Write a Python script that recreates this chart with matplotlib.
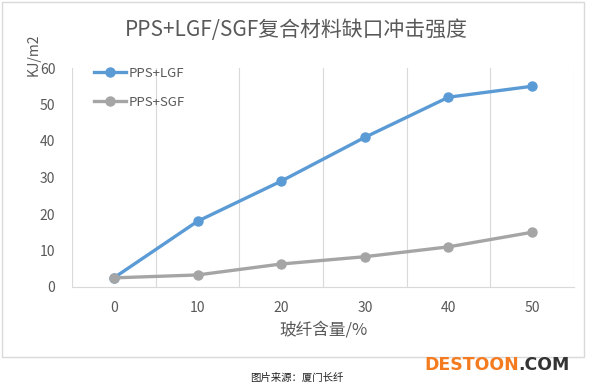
import matplotlib.pyplot as plt
from matplotlib.patches import Rectangle

plt.rcParams['font.family'] = ['Noto Sans CJK SC', 'DejaVu Sans']

# Data
content = [0, 10, 20, 30, 40, 50]
lgf = [2.5, 18, 29, 41, 52, 55]
sgf = [2.5, 3.3, 6.3, 8.3, 11, 15]

blue = '#5B9BD5'
grey = '#A5A5A5'
txt = '#595959'

fig = plt.figure(figsize=(5.94, 3.88), dpi=100)

# chart border
fig.patches.append(Rectangle((0.003, 1 - 357 / 388), 582 / 594, 355 / 388,
                             transform=fig.transFigure, fill=False,
                             edgecolor='#D9D9D9', lw=1))

ax = fig.add_axes([72 / 594, 1 - 287 / 388, 502 / 594, 219 / 388])
x = list(range(len(content)))
ax.plot(x, lgf, '-o', color=blue, lw=2.4, ms=6.5, label='PPS+LGF')
ax.plot(x, sgf, '-o', color=grey, lw=2.4, ms=6.5, label='PPS+SGF')

ax.set_xlim(-0.5, len(content) - 0.5)
ax.set_ylim(0, 60)
ax.set_yticks(range(0, 61, 10))
ax.set_xticks(x)
ax.set_xticklabels([str(c) for c in content])
# vertical gridlines between categories
for b in [i + 0.5 for i in x[:-1]]:
    ax.axvline(b, color='#D9D9D9', lw=0.8, zorder=0)
ax.axvline(-0.5, color='#D9D9D9', lw=0.8, zorder=0)
ax.axvline(len(content) - 0.5, color='#D9D9D9', lw=0.8, zorder=0)

for s in ['top', 'right', 'left']:
    ax.spines[s].set_visible(False)
ax.spines['bottom'].set_color('#D9D9D9')
ax.tick_params(length=0, colors=txt, labelsize=10)
ax.tick_params(axis='x', pad=10)
ax.tick_params(axis='y', pad=12)

ax.set_xlabel('玻纤含量/%', color=txt, fontsize=12, labelpad=5)
fig.text(34 / 594, 1 - 55 / 388, 'KJ/m2', rotation=90, color=txt,
         fontsize=10, ha='center', va='center')

fig.text(296 / 594, 1 - 30 / 388, 'PPS+LGF/SGF复合材料缺口冲击强度',
         color=txt, fontsize=15, ha='center', va='center')

leg = ax.legend(loc='upper left', bbox_to_anchor=(0.02, 1.06), frameon=False,
                fontsize=9.5, labelspacing=1.2, handlelength=2.4,
                handletextpad=0.2)
for t in leg.get_texts():
    t.set_color(txt)

fig.text(297 / 594, 1 - 378 / 388, '图片来源：厦门长纤', fontsize=7.5,
         color='#222222', ha='center', va='center')
fig.text(424 / 594, 1 - 365 / 388, 'DESTOON', fontsize=12.5, fontweight='bold',
         color='#F47B20', ha='left', va='center', family='DejaVu Sans')
fig.text(518 / 594, 1 - 365 / 388, '.COM', fontsize=12.5, fontweight='bold',
         color='#333333', ha='left', va='center', family='DejaVu Sans')

fig.savefig('out.png', dpi=100)
